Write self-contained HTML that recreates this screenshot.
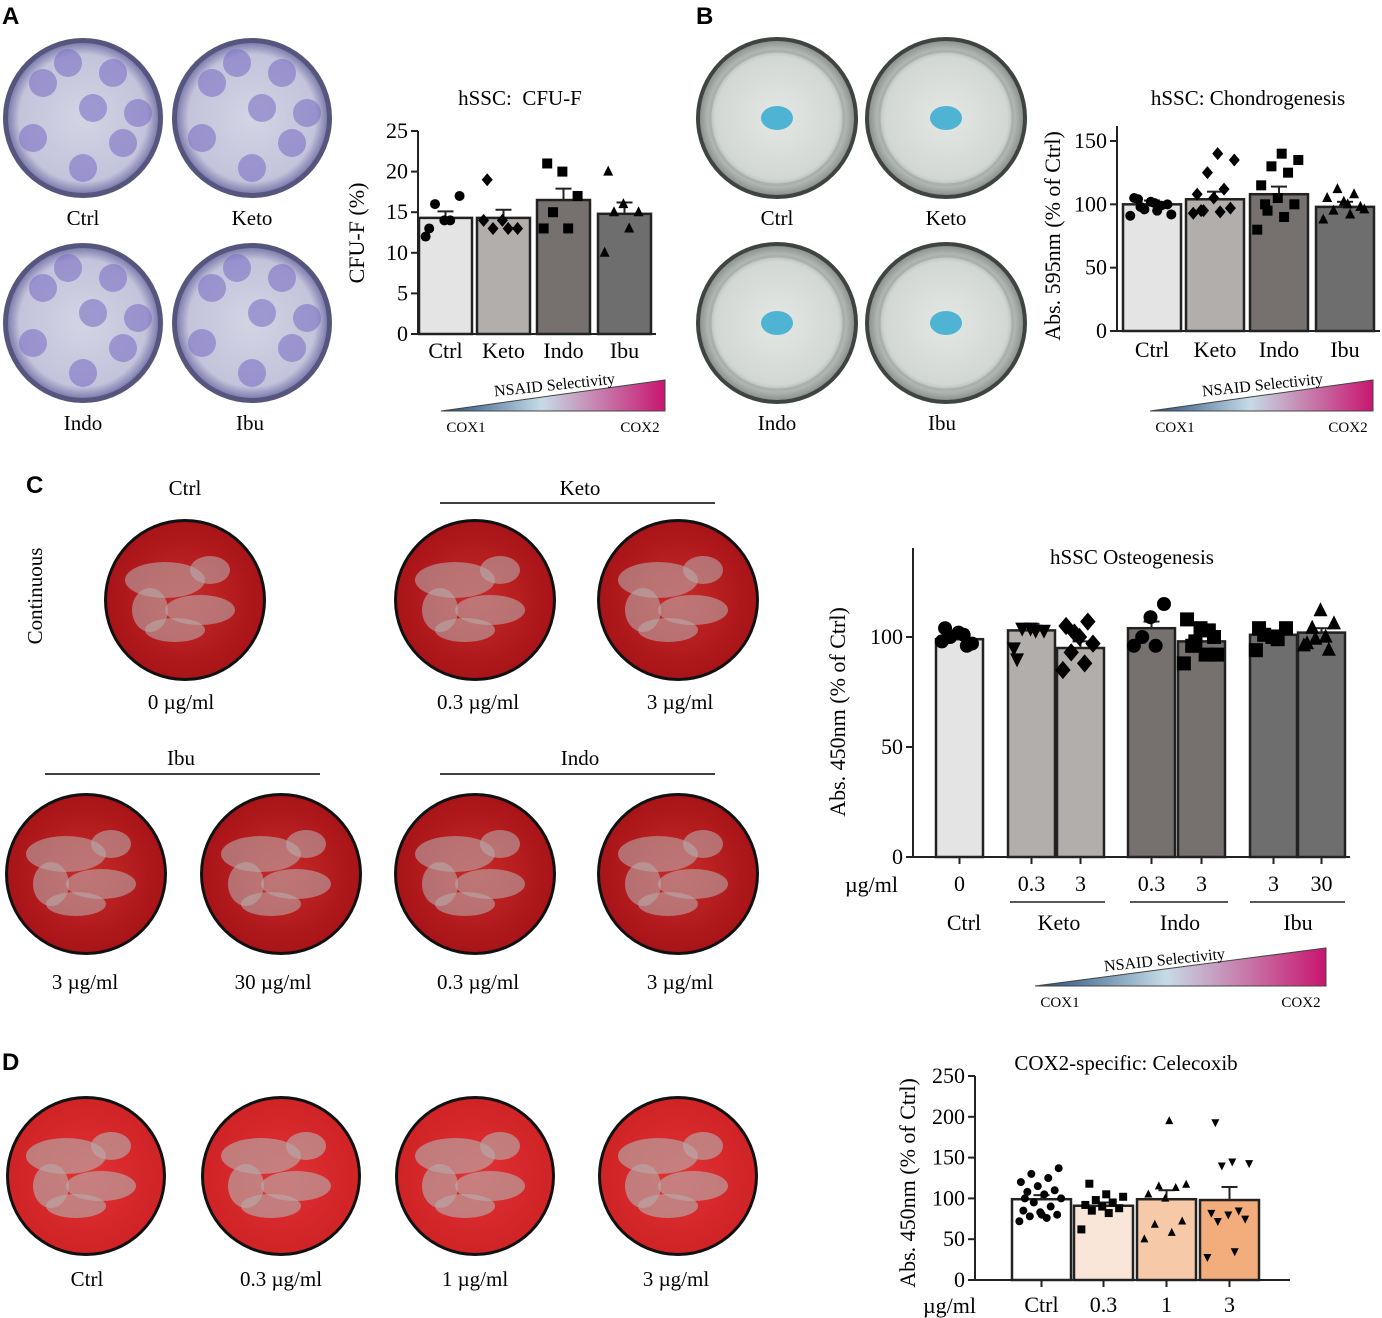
<!DOCTYPE html>
<html><head><meta charset="utf-8"><style>
body{margin:0;background:#fff;}
svg{display:block;font-family:"Liberation Serif",serif;}
.pl{font-family:"Liberation Sans",sans-serif;font-weight:bold;font-size:24px;}
</style></head><body>
<svg id="fig" width="1382" height="1318" viewBox="0 0 1382 1318" xmlns="http://www.w3.org/2000/svg">
<defs>
<linearGradient id="sel" x1="0" x2="1" y1="0" y2="0"><stop offset="0" stop-color="#1f4a7a"/><stop offset="0.45" stop-color="#c6dbe6"/><stop offset="1" stop-color="#c8156e"/></linearGradient>
<radialGradient id="purp" cx="0.5" cy="0.5" r="0.5"><stop offset="0" stop-color="#d3d4e3"/><stop offset="0.85" stop-color="#c3c3db"/><stop offset="1" stop-color="#7f7fb0"/></radialGradient>
<radialGradient id="clear" cx="0.5" cy="0.5" r="0.5"><stop offset="0" stop-color="#e4e8e5"/><stop offset="0.8" stop-color="#d2d7d4"/><stop offset="1" stop-color="#8d948f"/></radialGradient>
<radialGradient id="red" cx="0.5" cy="0.5" r="0.5"><stop offset="0" stop-color="#c82a2a"/><stop offset="1" stop-color="#a81418"/></radialGradient>
<radialGradient id="redD" cx="0.5" cy="0.5" r="0.5"><stop offset="0" stop-color="#e23236"/><stop offset="1" stop-color="#cf2326"/></radialGradient>
</defs>
<text class="pl" x="2" y="24">A</text>
<text class="pl" x="696" y="24">B</text>
<text class="pl" x="26" y="493">C</text>
<text class="pl" x="2" y="1070">D</text>
<g id="dishes"></g>
<g id="charts"></g>
<g id="labels" font-size="21" text-anchor="middle">
<text x="83" y="225">Ctrl</text><text x="252" y="225">Keto</text><text x="83" y="430">Indo</text><text x="250" y="430">Ibu</text>
<text x="777" y="225">Ctrl</text><text x="946" y="225">Keto</text><text x="777" y="430">Indo</text><text x="942" y="430">Ibu</text>
<text x="185" y="495">Ctrl</text><text x="580" y="495">Keto</text><text x="181" y="765">Ibu</text><text x="580" y="765">Indo</text>
<text x="181" y="709">0 µg/ml</text><text x="478" y="709">0.3 µg/ml</text><text x="680" y="709">3 µg/ml</text>
<text x="85" y="989">3 µg/ml</text><text x="273" y="989">30 µg/ml</text><text x="478" y="989">0.3 µg/ml</text><text x="680" y="989">3 µg/ml</text>
<text x="87" y="1286">Ctrl</text><text x="281" y="1286">0.3 µg/ml</text><text x="475" y="1286">1 µg/ml</text><text x="676" y="1286">3 µg/ml</text>
<text transform="translate(42,596) rotate(-90)">Continuous</text>
</g>
<g stroke="#000" stroke-width="1.5"><line x1="440" y1="503" x2="715" y2="503"/><line x1="45" y1="774" x2="320" y2="774"/><line x1="440" y1="774" x2="715" y2="774"/></g>
</svg>
<script>
// ---------- data ----------
const aCats=["Ctrl","Keto","Indo","Ibu"];
const aMeans=[14.3,14.3,16.5,14.8];
const aErr=[0.8,1.0,1.4,1.4];
const aPts=[[12,14,16,17,14,13],[14,13,13,13,14,19],[13,13,15,17,20,21],[10,13,15,15,16,20]];
const aTicks=[0,5,10,15,20,25];

const bCats=["Ctrl","Keto","Indo","Ibu"];
const bMeans=[100,104,108,98];
const bErr=[3,6,6,4];
const bPts=[[91,95,98,100,102,105,99,96,92,101,104],[93,94,95,97,105,108,112,125,135,140,95],[80,90,95,100,105,115,125,130,135,140,100],[88,92,95,98,102,105,108,112,96,100]];
const bTicks=[0,50,100,150];

const cCats=["0","0.3","3","0.3","3","3","30"];
const cMeans=[99,103,95,104,98,101,102];
const cErr=[2,3,3,3,3,2,2];
const cPts=[[98,101,100,97,102,104,96],[95,103,104,103,104,90],[85,88,93,97,100,105,107,102],[96,96,100,115,109],[88,92,96,100,104,108,103,98,92],[94,99,101,104,100,104],[96,100,104,106,112,97,94,99]];
const cTicks=[0,50,100];

const dCats=["Ctrl","0.3","1","3"];
const dMeans=[99,91,99,98];
const dErr=[5,4,11,16];
const dPts=[[72,76,78,80,83,85,90,95,100,105,108,110,115,120,125,130,137,80,100],[62,82,85,88,90,92,95,98,102,105,118],[50,58,68,72,100,105,113,115,117,195],[28,35,72,75,80,82,85,140,143,145,193]];
const dTicks=[0,50,100,150,200,250];

const NS="http://www.w3.org/2000/svg";
function mk(tag,attrs,parent){const e=document.createElementNS(NS,tag);for(const k in attrs)e.setAttribute(k,attrs[k]);parent.appendChild(e);return e;}
const charts=document.getElementById('charts');
const dishG=document.getElementById('dishes');

function marker(g,shape,x,y,s){
  let e;
  if(shape==='c')e=mk('circle',{cx:x,cy:y,r:s},g);
  else if(shape==='s')e=mk('rect',{x:x-s,y:y-s,width:2*s,height:2*s},g);
  else if(shape==='d')e=mk('polygon',{points:`${x},${y-s*1.3} ${x+s*1.1},${y} ${x},${y+s*1.3} ${x-s*1.1},${y}`},g);
  else if(shape==='t')e=mk('polygon',{points:`${x},${y-s*1.2} ${x+s},${y+s*0.8} ${x-s},${y+s*0.8}`},g);
  else e=mk('polygon',{points:`${x},${y+s*1.2} ${x+s},${y-s*0.8} ${x-s},${y-s*0.8}`},g);
  
  
  e.setAttribute('fill','#000');
}

function chart(cfg){
  const g=mk('g',{},charts);
  
  
  const y=v=>cfg.y0-(v-0)*(cfg.y0-cfg.yTop)/cfg.vTop;
  cfg.means.forEach((m,i)=>{
    const bx=cfg.bx[i],bw=cfg.bw;
    const r=mk('rect',{x:bx,y:y(m),width:bw,height:cfg.y0-y(m),fill:cfg.fills[i],stroke:'#222','stroke-width':2.5},g);
    
    
    const cx=bx+bw/2;
    mk('line',{x1:cx,x2:cx,y1:y(m),y2:y(m+cfg.err[i]),stroke:'#222','stroke-width':2},g);
    mk('line',{x1:cx-8,x2:cx+8,y1:y(m+cfg.err[i]),y2:y(m+cfg.err[i]),stroke:'#222','stroke-width':2},g);
    const pts=cfg.pts[i];
    pts.forEach((v,j)=>{const f=((j*0.618)%1)-0.5;marker(g,cfg.shapes[i],cx+f*bw*0.75,y(v),cfg.ms);});
  });
  mk('line',{x1:cfg.ax,x2:cfg.ax,y1:cfg.y0,y2:cfg.axTop,stroke:'#222','stroke-width':2},g);
  mk('line',{x1:cfg.ax,x2:cfg.xEnd,y1:cfg.y0,y2:cfg.y0,stroke:'#222','stroke-width':2},g);
  cfg.ticks.forEach(t=>{
    mk('line',{x1:cfg.ax-7,x2:cfg.ax,y1:y(t),y2:y(t),stroke:'#222','stroke-width':2},g);
    const tx=mk('text',{x:cfg.ax-10,y:y(t)+7,'text-anchor':'end','font-size':cfg.fs},g);tx.textContent=t;
    
    
  });
  cfg.cats.forEach((c,i)=>{
    const cx=cfg.bx[i]+cfg.bw/2;
    if(cfg.xticks)mk('line',{x1:cx,x2:cx,y1:cfg.y0,y2:cfg.y0+7,stroke:'#222','stroke-width':2},g);
    const tx=mk('text',{x:cx,y:cfg.y0+cfg.catDy,'text-anchor':'middle','font-size':cfg.fs},g);tx.textContent=c;
    
    
  });
  const t=mk('text',{x:cfg.tx,y:cfg.ty,'text-anchor':'middle','font-size':cfg.tfs||21},g);t.textContent=cfg.title;
  
  
  const yl=mk('text',{transform:`translate(${cfg.ylx},${cfg.yly}) rotate(-90)`,'text-anchor':'middle','font-size':cfg.fs},g);yl.textContent=cfg.ytitle;
  
  
}
const gr1='#e3e4e3',gr2='#b2aeac',gr3='#76716f',gr4='#6e6e6e';
chart({name:'chart-cfu-f',cats:aCats,means:aMeans,err:aErr,pts:aPts,ticks:aTicks,y0:334,yTop:131,vTop:25,ax:418,axTop:131,xEnd:656,
  bx:[419,477,537,598],bw:53,fills:[gr1,gr2,gr3,gr4],shapes:['c','d','s','t'],ms:5,fs:22,catDy:24,xticks:false,
  title:'hSSC:\u00a0 CFU-F',tx:520,ty:105,ytitle:'CFU-F (%)',ylx:364,yly:233});
chart({name:'chart-chondrogenesis',cats:bCats,means:bMeans,err:bErr,pts:bPts,ticks:bTicks,y0:331,yTop:141,vTop:150,ax:1117,axTop:126,xEnd:1380,
  bx:[1123,1186,1250,1316],bw:58,fills:[gr1,gr2,gr3,gr4],shapes:['c','d','s','t'],ms:5,fs:22,catDy:26,xticks:false,
  title:'hSSC: Chondrogenesis',tx:1248,ty:105,ytitle:'Abs. 595nm (% of Ctrl)',ylx:1060,yly:236});
chart({name:'chart-osteogenesis',cats:cCats,means:cMeans,err:cErr,pts:cPts,ticks:cTicks,y0:857,yTop:637,vTop:100,ax:913,axTop:548,xEnd:1350,
  bx:[936,1008,1057,1128,1178,1250,1298],bw:47,fills:[gr1,gr2,gr2,gr3,gr3,gr4,gr4],shapes:['c','v','d','c','s','s','t'],ms:7,fs:22,catDy:34,xticks:true,
  title:'hSSC Osteogenesis',tx:1132,ty:564,ytitle:'Abs. 450nm (% of Ctrl)',ylx:845,yly:712});
chart({name:'chart-celecoxib',cats:dCats,means:dMeans,err:dErr,pts:dPts,ticks:dTicks,y0:1280,yTop:1076,vTop:250,ax:975,axTop:1076,xEnd:1290,
  bx:[1012,1074,1137,1200],bw:59,fills:['#ffffff','#f9e6d8','#f6c9a8','#f3ad7c'],shapes:['c','s','t','v'],ms:4,fs:22,catDy:32,xticks:true,
  title:'COX2-specific: Celecoxib',tx:1126,ty:1070,ytitle:'Abs. 450nm (% of Ctrl)',ylx:915,yly:1183});

function txt(x,y,s,fs,anchor){const t=mk('text',{x:x,y:y,'font-size':fs,'text-anchor':anchor||'middle'},charts);t.textContent=s;return t;}
txt(845,892,'µg/ml',22,'start');txt(923,1313,'µg/ml',22,'start');
txt(964,930,'Ctrl',22);txt(1059,930,'Keto',22);txt(1180,930,'Indo',22);txt(1298,930,'Ibu',22);
[[1010,1105],[1130,1228],[1250,1345]].forEach(a=>mk('line',{x1:a[0],x2:a[1],y1:902,y2:902,stroke:'#222','stroke-width':1.5},charts));

function wedge(x1,x2,yb,h,lx,ly,rot){
  const g=mk('g',{},charts);
  
  
  mk('polygon',{points:`${x1},${yb} ${x2},${yb-h} ${x2},${yb}`,fill:'url(#sel)',stroke:'#444','stroke-width':1},g);
  const t=mk('text',{transform:`translate(${lx},${ly}) rotate(${rot})`,'font-size':16,'text-anchor':'middle'},g);t.textContent='NSAID Selectivity';
  const a=mk('text',{x:x1+25,y:yb+21,'font-size':15,'text-anchor':'middle'},g);a.textContent='COX1';
  const b=mk('text',{x:x2-25,y:yb+21,'font-size':15,'text-anchor':'middle'},g);b.textContent='COX2';
}
wedge(441,665,411,31,555,390,-6);
wedge(1150,1373,411,31,1263,390,-6);
wedge(1035,1326,986,38,1165,965,-6);

function dish(cx,cy,r,type,name){
  const g=mk('g',{},dishG);
  
  
  if(type==='purp'){
    mk('circle',{cx,cy,r,fill:'#55557e'},g);
    mk('circle',{cx,cy,r:r-5,fill:'url(#purp)'},g);
    const off=[[-40,-35],[30,-45],[-50,20],[40,25],[0,50],[10,-10],[-15,-55],[55,-5]];
    off.forEach(o=>mk('circle',{cx:cx+o[0],cy:cy+o[1],r:14,fill:'#7d72c4',opacity:0.6},g));
  }else if(type==='clear'){
    mk('circle',{cx,cy,r,fill:'#3e4440'},g);
    mk('circle',{cx,cy,r:r-4,fill:'url(#clear)'},g);
    mk('circle',{cx,cy,r:r-14,fill:'none',stroke:'#aab0ac','stroke-width':3},g);
    mk('ellipse',{cx,cy,rx:16,ry:12,fill:'#4fb3d3'},g);
  }else{
    mk('circle',{cx,cy,r,fill:'#111'},g);
    mk('circle',{cx,cy,r:r-3,fill:type==='red'?'url(#red)':'url(#redD)'},g);
    const op=type==='red'?0.6:0.65;
    [[-20,-20,40,18],[15,10,35,15],[-10,30,30,12],[25,-30,20,14],[-35,10,18,22]].forEach(o=>mk('ellipse',{cx:cx+o[0],cy:cy+o[1],rx:o[2],ry:o[3],fill:'#b9a9a8',opacity:op},g));
  }
}
[[83,118],[252,118],[83,323],[252,323]].forEach((p,i)=>dish(p[0],p[1],80,'purp','cfu-dish'));
[[777,118],[946,118],[777,323],[946,323]].forEach(p=>dish(p[0],p[1],81,'clear','chondro-dish'));
[[185,600],[475,600],[678,600],[86,874],[281,874],[475,874],[678,874]].forEach(p=>dish(p[0],p[1],81,'red','osteo-dish'));
[[86,1176],[281,1176],[475,1176],[678,1176]].forEach(p=>dish(p[0],p[1],80,'redD','celecoxib-dish'));
</script>
</body></html>
